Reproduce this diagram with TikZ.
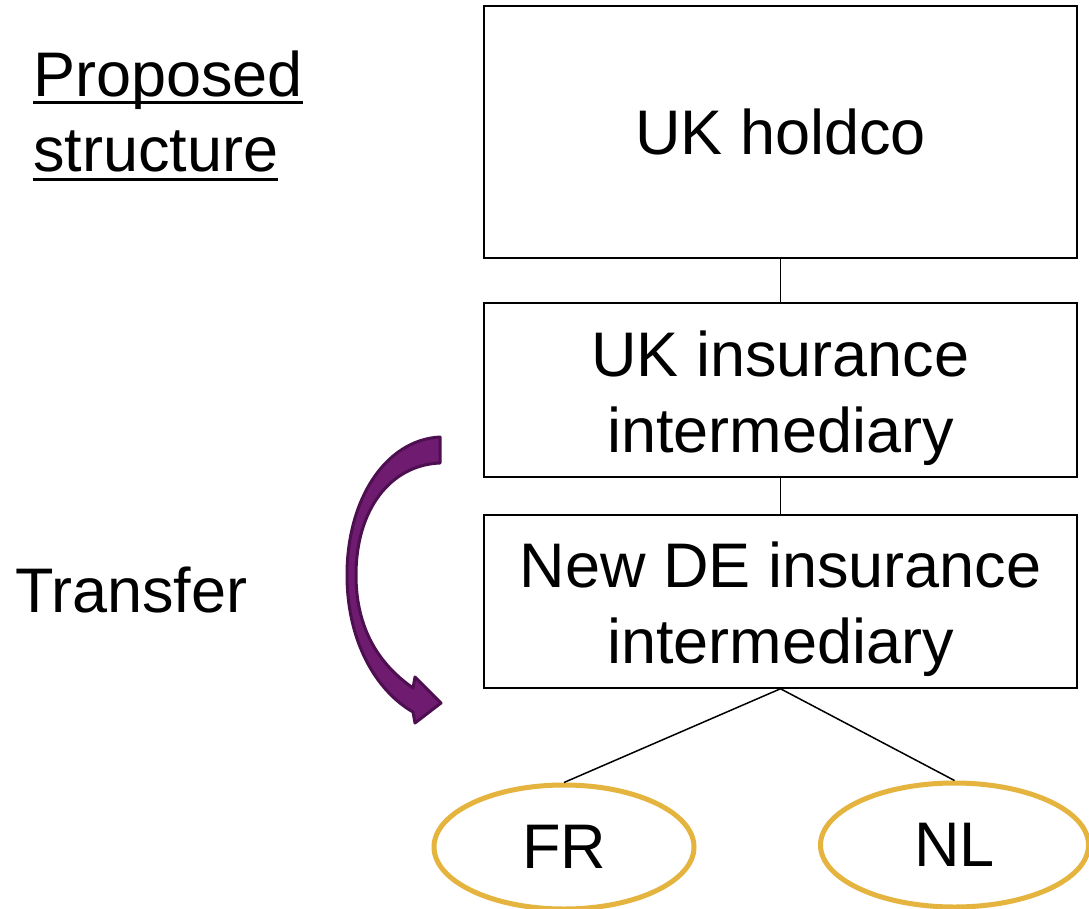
\documentclass[tikz,border=0pt]{standalone}
\usepackage{fontspec}
\setmainfont{Liberation Sans}
\usetikzlibrary{shapes.geometric}
\definecolor{gold}{HTML}{E4B43E}
\definecolor{arrfill}{HTML}{6E1B70}
\definecolor{arrline}{HTML}{4E0F50}
\begin{document}
\begin{tikzpicture}[x=1pt,y=-1pt,
  bigtext/.style={font=\fontsize{63}{76}\selectfont},
  entity/.style={draw=black,line width=1.5pt,minimum width=593pt,align=center,bigtext,inner sep=0pt},
  country/.style={ellipse,draw=gold,line width=5pt,bigtext,inner sep=0pt},
  link/.style={draw=black,line width=1.5pt},
  uline/.style={draw=black,line width=3pt}]
\useasboundingbox[fill=white] (0,0) rectangle (1089,909);
\node[entity,minimum height=252pt] (holdco) at (780.5,132) {UK holdco};
\node[entity,minimum height=174pt] (ukint) at (780.5,390) {\rule{0pt}{62pt}UK insurance\\intermediary};
\node[entity,minimum height=173pt] (deint) at (780.5,601.5) {\rule{0pt}{62pt}New DE insurance\\intermediary};
\node[country,minimum width=260pt,minimum height=124pt] (fr) at (564,847) {FR};
\node[country,minimum width=268pt,minimum height=124pt] (nl) at (954.5,845) {NL};
\node[bigtext,anchor=base west,inner sep=0pt] (title1) at (33,97) {Proposed};
\node[bigtext,anchor=base west,inner sep=0pt] (title2) at (33,172) {structure};
\draw[uline] ([yshift=-6pt]title1.base west) -- ([yshift=-6pt]title1.base east);
\draw[uline] ([yshift=-8pt]title2.base west) -- ([yshift=-8pt]title2.base east);
\node[bigtext,anchor=base west,inner sep=0pt] (transfer) at (15,612) {Transfer};
\draw[link] (holdco.south) -- (ukint.north);
\draw[link] (ukint.south) -- (deint.north);
\draw[link] (deint.south) -- (fr.north);
\draw[link] (deint.south) -- (nl.north);
\fill[arrfill,draw=arrline,line width=3pt,line join=round]
  (440,437) .. controls (385,440) and (347,500) .. (347,575)
  .. controls (347,640) and (375,690) .. (413,712)
  -- (415,723) -- (441,703) -- (415,677) -- (413,688)
  .. controls (380,665) and (356,630) .. (356,575)
  .. controls (356,510) and (390,465) .. (440,463) -- cycle;
\end{tikzpicture}
\end{document}
